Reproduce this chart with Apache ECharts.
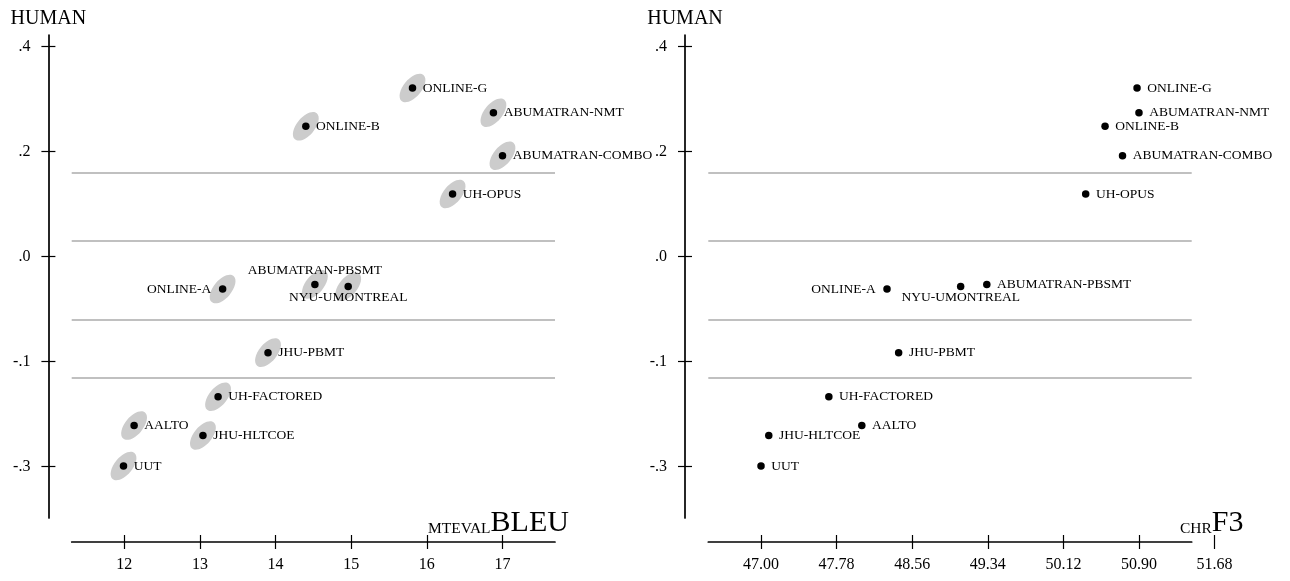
<!DOCTYPE html>
<html>
<head>
<meta charset="utf-8">
<script src="https://cdn.jsdelivr.net/npm/echarts@6/dist/echarts.min.js"></script>
<style>
  html, body { margin: 0; padding: 0; background: #fff; }
  #chart { width: 1290px; height: 581px; }
</style>
</head>
<body>
<div id="chart"></div>
<script>
// Systems and their scores
const systems = ["ONLINE-G", "ABUMATRAN-NMT", "ONLINE-B", "ABUMATRAN-COMBO", "UH-OPUS",
  "ABUMATRAN-PBSMT", "NYU-UMONTREAL", "ONLINE-A", "JHU-PBMT", "UH-FACTORED",
  "AALTO", "JHU-HLTCOE", "UUT"];
const human = [0.321, 0.274, 0.248, 0.192, 0.119, -0.053, -0.057, -0.062, -0.183, -0.267, -0.322, -0.341, -0.399];
const bleu  = [15.81, 16.88, 14.40, 17.00, 16.34, 14.52, 14.96, 13.30, 13.90, 13.24, 12.13, 13.04, 11.99];
const chrf3 = [50.88, 50.90, 50.55, 50.73, 50.35, 49.33, 49.06, 48.30, 48.42, 47.70, 48.04, 47.08, 47.00];

// Human-score cluster boundaries
const clusterBounds = [0.1556, 0.032, -0.1225, -0.2253];

// Axis ticks
const yTicks = [0.4, 0.2, 0.0, -0.2, -0.4];
const yTickText = [".4", ".2", ".0", "-.1", "-.3"];
const bleuTicks = [12, 13, 14, 15, 16, 17];
const chrfTicks = [47.00, 47.78, 48.56, 49.34, 50.12, 50.90];
const chrfMaxTick = [51.68];

// Label placement per system (default: right of the point)
const leftLabelSide = { "ONLINE-A": "left", "ABUMATRAN-PBSMT": "top", "NYU-UMONTREAL": "bottom" };
const rightLabelSide = { "ONLINE-A": "left", "NYU-UMONTREAL": "bottom" };

const SERIF = "'Liberation Serif', 'DejaVu Serif', serif";
const INK = '#000';

// Layout
const TOP = 35, HEIGHT = 483;
const Y_MIN = -0.498, Y_MAX = 0.422;
const L_LEFT = 71.7, L_WIDTH = 483.3, L_MIN = 11.305, L_MAX = 17.694;
const R_LEFT = 708.3, R_WIDTH = 483.4, R_MIN = 46.456, R_MAX = 51.444;
const EXTRA_MAX = 51.9;
const EXTRA_WIDTH = (EXTRA_MAX - R_MIN) * R_WIDTH / (R_MAX - R_MIN);
const AXIS_OFFSET = 24, Y_OFFSET = 23.3;

const chart = echarts.init(document.getElementById('chart'), null, { renderer: 'canvas' });

function gridAt(left, width) {
  return { left: left, top: TOP, width: width, height: HEIGHT, containLabel: false, outerBoundsMode: 'none' };
}

function xAxisPair(gridIndex, min, max, ticks, fmt, showLine) {
  const base = {
    type: 'value', gridIndex: gridIndex, min: min, max: max, position: 'bottom',
    offset: AXIS_OFFSET, splitLine: { show: false }
  };
  return [
    Object.assign({}, base, {
      axisLine: { show: showLine, onZero: false, lineStyle: { color: INK, width: 1.7 } },
      axisTick: { show: true, inside: true, length: 7, customValues: ticks, lineStyle: { color: INK, width: 1.2 } },
      axisLabel: { show: false }
    }),
    Object.assign({}, base, {
      axisLine: { show: false, onZero: false },
      axisTick: { show: true, inside: false, length: 7, customValues: ticks, lineStyle: { color: INK, width: 1.2 } },
      axisLabel: { show: true, customValues: ticks, margin: 15, formatter: fmt,
        fontFamily: SERIF, fontSize: 16, color: INK }
    })
  ];
}

function yAxisPair(gridIndex) {
  const base = {
    type: 'value', gridIndex: gridIndex, min: Y_MIN, max: Y_MAX, position: 'left',
    offset: Y_OFFSET, splitLine: { show: false }
  };
  const fmt = v => {
    const i = yTicks.findIndex(t => Math.abs(t - v) < 1e-6);
    return i >= 0 ? yTickText[i] : '';
  };
  return [
    Object.assign({}, base, {
      name: 'HUMAN', nameLocation: 'end', nameGap: 6,
      nameTextStyle: { fontFamily: SERIF, fontSize: 20, color: INK },
      axisLine: { show: true, onZero: false, lineStyle: { color: INK, width: 1.7 } },
      axisTick: { show: true, inside: true, length: 7, customValues: yTicks, lineStyle: { color: INK, width: 1.2 } },
      axisLabel: { show: false }
    }),
    Object.assign({}, base, {
      axisLine: { show: false, onZero: false },
      axisTick: { show: true, inside: false, length: 7, customValues: yTicks, lineStyle: { color: INK, width: 1.2 } },
      axisLabel: { show: true, customValues: yTicks, margin: 18, formatter: fmt,
        fontFamily: SERIF, fontSize: 16, color: INK }
    })
  ];
}

function pointData(xs, sides) {
  return systems.map((name, i) => {
    const side = sides[name] || 'right';
    const dist = { right: 6.5, left: 7.5, top: 3, bottom: 0 }[side];
    return { name: name, value: [xs[i], human[i]], label: { position: side, distance: dist } };
  });
}

const clusterLines = {
  silent: true, symbol: 'none', label: { show: false },
  lineStyle: { color: '#ababab', width: 1.5, type: 'solid', opacity: 1 },
  data: clusterBounds.map(v => ({ yAxis: v }))
};

const dotLabel = { show: true, formatter: '{b}', fontFamily: SERIF, fontSize: 13.5, color: INK };

// Filled unit circle, stretched to the symbol box to form an ellipse
const ELLIPSE = 'path://M10,0 C15.52,0 20,4.48 20,10 C20,15.52 15.52,20 10,20 C4.48,20 0,15.52 0,10 C0,4.48 4.48,0 10,0 Z';

function axisTitle(x, small, big) {
  return {
    type: 'text', x: x, y: 538, silent: true,
    style: {
      text: '{sc|' + small + '}{big|' + big + '}', align: 'left', verticalAlign: 'bottom',
      rich: {
        sc: { fontFamily: SERIF, fontSize: 15.5, fill: INK, verticalAlign: 'bottom', padding: [0, 0, 1, 0] },
        big: { fontFamily: SERIF, fontSize: 30, fill: INK, verticalAlign: 'bottom' }
      }
    }
  };
}

const option = {
  backgroundColor: '#fff',
  animation: false,
  grid: [gridAt(L_LEFT, L_WIDTH), gridAt(R_LEFT, R_WIDTH), gridAt(R_LEFT, EXTRA_WIDTH)],
  xAxis: [
    ...xAxisPair(0, L_MIN, L_MAX, bleuTicks, v => String(Math.round(v)), true),
    ...xAxisPair(1, R_MIN, R_MAX, chrfTicks, v => v.toFixed(2), true),
    ...xAxisPair(2, R_MIN, EXTRA_MAX, chrfMaxTick, v => v.toFixed(2), false)
  ],
  yAxis: [
    ...yAxisPair(0),
    ...yAxisPair(1),
    { type: 'value', gridIndex: 2, min: Y_MIN, max: Y_MAX, show: false }
  ],
  graphic: [axisTitle(428, 'MTEVAL', 'BLEU'), axisTitle(1180, 'CHR', 'F3')],
  series: [
    {
      type: 'scatter', xAxisIndex: 0, yAxisIndex: 0, silent: true, z: 1,
      symbol: ELLIPSE, symbolSize: [18, 34], symbolRotate: -40,
      itemStyle: { color: '#cccccc', opacity: 1 },
      data: systems.map((n, i) => [bleu[i], human[i]])
    },
    {
      type: 'scatter', xAxisIndex: 0, yAxisIndex: 0, z: 3,
      symbol: 'circle', symbolSize: 7.5, itemStyle: { color: '#000', opacity: 1 },
      label: dotLabel,
      data: pointData(bleu, leftLabelSide),
      markLine: clusterLines
    },
    {
      type: 'scatter', xAxisIndex: 2, yAxisIndex: 2, z: 3,
      symbol: 'circle', symbolSize: 7.5, itemStyle: { color: '#000', opacity: 1 },
      label: dotLabel,
      data: pointData(chrf3, rightLabelSide),
      markLine: clusterLines
    }
  ]
};

chart.setOption(option);
</script>
</body>
</html>
